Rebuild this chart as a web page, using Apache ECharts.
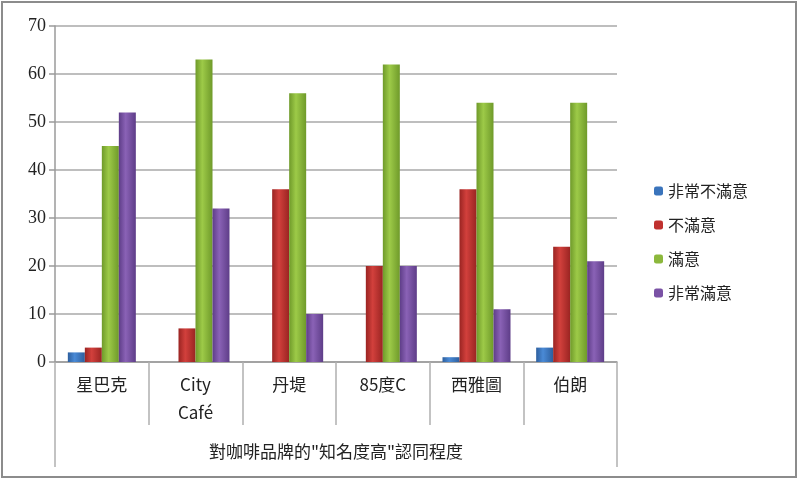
<!DOCTYPE html>
<html><head><meta charset="utf-8">
<script src="https://cdn.jsdelivr.net/npm/echarts@6/dist/echarts.min.js"></script>
<style>html,body{margin:0;padding:0;background:#fff}#c{width:800px;height:482px}</style>
</head><body><div id="c"></div>
<script>
const categories = ['星巴克', 'City\nCafé', '丹堤', '85度C', '西雅圖', '伯朗'];
const axisTitle = ['對咖啡品牌的"知名度高"認同程度'];
const seriesNames = ['非常不滿意', '不滿意', '滿意', '非常滿意'];
const veryUnsatisfied = [2, 0, 0, 0, 1, 3];
const unsatisfied = [3, 7, 36, 20, 36, 24];
const satisfied = [45, 63, 56, 62, 54, 54];
const verySatisfied = [52, 32, 10, 20, 11, 21];
const yTicks = {min: 0, max: 70, interval: 10};

const colors = [
  ['#2d5f9e', '#4a8ad6', '#2d5f9e'],
  ['#9a2422', '#d2403c', '#9a2422'],
  ['#6f9a2a', '#9dca48', '#6f9a2a'],
  ['#5e3d88', '#8a62b6', '#5e3d88']
];
const legendColors = ['#3a74bc', '#c0312f', '#8cb83c', '#7a52a5'];
function grad(c) {
  return {type: 'linear', x: 0, y: 0, x2: 1, y2: 0,
    colorStops: [{offset: 0, color: c[0]}, {offset: 0.4, color: c[1]}, {offset: 1, color: c[2]}]};
}
const data = [veryUnsatisfied, unsatisfied, satisfied, verySatisfied];
const font = '"Noto Sans CJK TC", "Liberation Serif", serif';

const chart = echarts.init(document.getElementById('c'));
chart.setOption({
  animation: false,
  backgroundColor: '#fff',
  textStyle: {fontFamily: font},
  grid: {left: 55, right: 183, top: 26, bottom: 120, containLabel: false},
  legend: {
    orient: 'vertical', left: 649, top: 178,
    itemWidth: 9, itemHeight: 9, itemGap: 18,
    textStyle: {fontSize: 16, color: '#222', fontFamily: font},
    data: seriesNames.map((n, i) => ({name: n, itemStyle: {color: legendColors[i]}}))
  },
  xAxis: [{
    type: 'category', data: categories, position: 'bottom',
    axisLine: {show: true, lineStyle: {color: '#9a9a9a', width: 1.5}},
    axisTick: {show: true, interval: 0, length: 63, lineStyle: {color: '#b0b0b0', width: 1.5}},
    axisLabel: {interval: 0, margin: 9, fontSize: 17, color: '#222', lineHeight: 28, verticalAlign: 'top', fontFamily: font}
  }, {
    type: 'category', data: axisTitle, position: 'bottom',
    axisLine: {show: false},
    axisTick: {show: true, length: 105, lineStyle: {color: '#b0b0b0', width: 1.5}},
    axisLabel: {margin: 81, fontSize: 17, color: '#222', verticalAlign: 'top', fontFamily: font}
  }],
  yAxis: {
    type: 'value', min: yTicks.min, max: yTicks.max, interval: yTicks.interval,
    axisLine: {show: true, lineStyle: {color: '#9a9a9a', width: 1.5}},
    axisTick: {show: true, length: 6, lineStyle: {color: '#9a9a9a', width: 1.5}},
    axisLabel: {fontSize: 18, color: '#222', margin: 9, fontFamily: '"Liberation Serif", serif'},
    splitLine: {lineStyle: {color: '#a8a8a8', width: 1.5}}
  },
  series: seriesNames.map((n, i) => ({
    name: n, type: 'bar', data: data[i], xAxisIndex: 0,
    barWidth: 17, barGap: '0%',
    itemStyle: {color: grad(colors[i])}
  })),
  graphic: [{
    type: 'rect', shape: {x: 2, y: 2, width: 794, height: 475},
    style: {fill: 'none', stroke: '#8c8c8c', lineWidth: 2}, silent: true
  }]
});
</script></body></html>
